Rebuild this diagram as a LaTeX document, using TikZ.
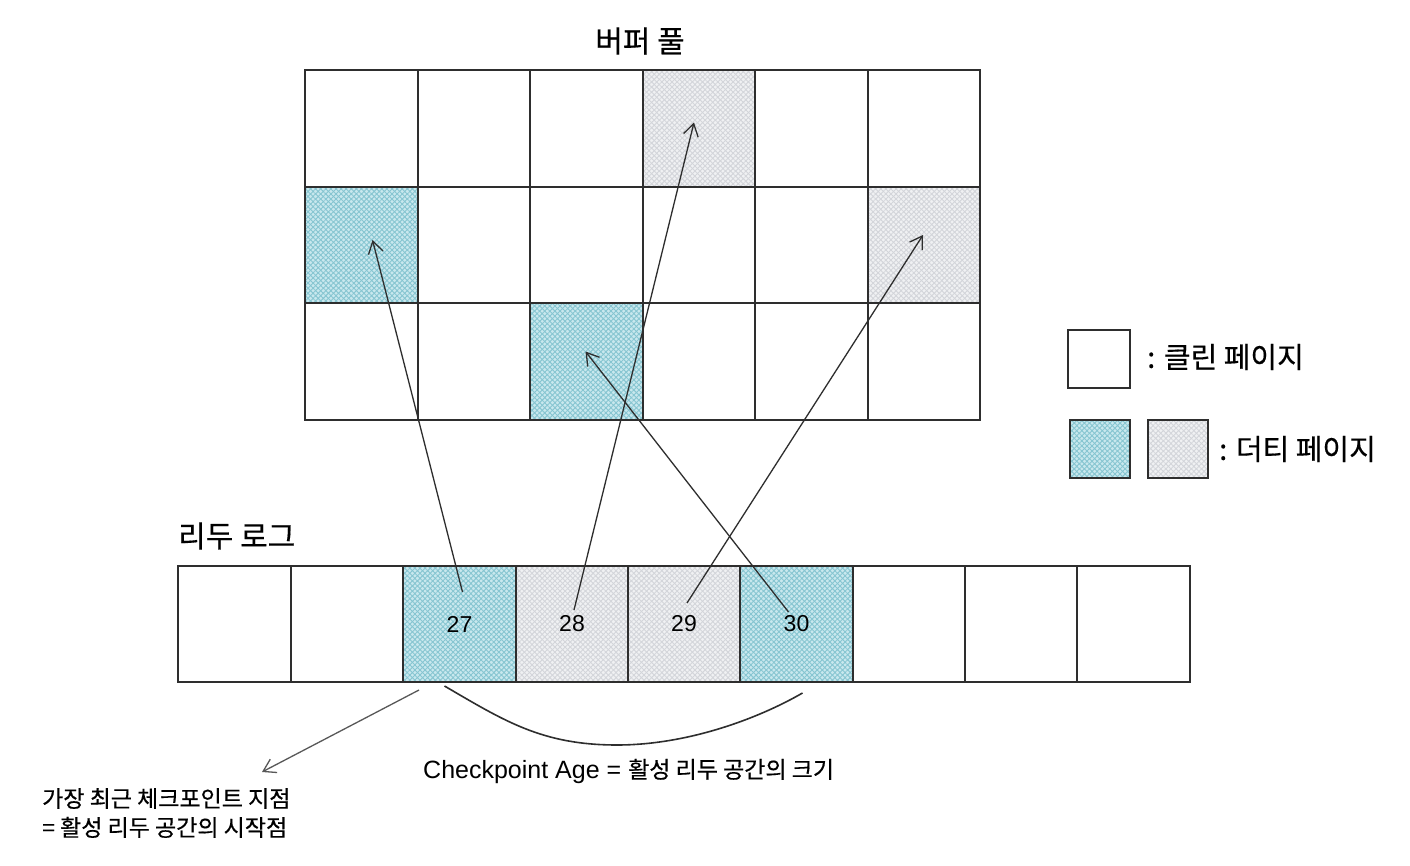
\documentclass[tikz,border=0pt]{standalone}
\usepackage{fontspec}
\setmainfont{Liberation Sans}
\newfontfamily\kr[FakeBold=0.4]{Noto Sans CJK KR}
\usetikzlibrary{arrows.meta,calc,backgrounds,patterns.meta}
\definecolor{ink}{HTML}{2E2E2E}
\definecolor{bluebase}{HTML}{C9E8EE}
\definecolor{blueline}{HTML}{86C5D1}
\definecolor{greybase}{HTML}{F0F1F3}
\definecolor{greyline}{HTML}{D3D5DA}
\begin{document}
\begin{tikzpicture}[x=1pt,y=-1pt,
  cell/.style={draw=ink,line width=1.8pt,inner sep=0pt,outer sep=0pt,anchor=north west},
  logcell/.style={cell,minimum height=116pt,font=\fontsize{23}{26}\selectfont},
  legbox/.style={cell,minimum width=60pt,minimum height=58pt},
  hatchb/.style={fill=bluebase,
    postaction={pattern={Lines[angle=45,distance=3.6pt,line width=0.9pt]},pattern color=blueline},
    postaction={pattern={Lines[angle=-45,distance=3.6pt,line width=0.9pt]},pattern color=blueline}},
  hatchg/.style={fill=greybase,
    postaction={pattern={Lines[angle=45,distance=3.6pt,line width=0.9pt]},pattern color=greyline},
    postaction={pattern={Lines[angle=-45,distance=3.6pt,line width=0.9pt]},pattern color=greyline}},
  ptr/.style={draw=ink,line width=1.3pt,
    -{Straight Barb[length=12pt,width=15pt,line width=1.3pt]}},
  title/.style={font=\kr\fontsize{30}{34}\selectfont,inner sep=0pt},
  legtext/.style={font=\kr\fontsize{29}{32}\selectfont,inner sep=0pt,anchor=west}]
\useasboundingbox (0,0) rectangle (1410,866);

% buffer pool grid
\foreach \r/\y/\h in {0/70/117,1/187/116,2/303/117}
  \foreach \c/\x/\w in {0/305/113,1/418/112,2/530/113,3/643/112,4/755/113,5/868/112}
    \node[cell,minimum width=\w pt,minimum height=\h pt] (b\r\c) at (\x,\y) {};

\node[title] (tbp) at (640,41) {버퍼 풀};

% redo log
\foreach \i/\x/\w/\t in {0/178/113/,1/291/112/,2/403/113/27,3/516/112/28,4/628/112/29,
                         5/740/113/30,6/853/112/,7/965/112/,8/1077/113/}
  \node[logcell,minimum width=\w pt] (r\i) at (\x,566) {\t};

\node[title,anchor=west] (trl) at (178,536) {리두 로그};

% legend boxes
\node[legbox,minimum width=62pt] (lc) at (1068,330) {};
\node[legbox] (ld1) at (1070,420) {};
\node[legbox] (ld2) at (1148,420) {};

% fills of the dirty pages
\begin{scope}[on background layer]
  \fill[white] (0,0) rectangle (1410,866);
  \foreach \n/\h in {b03/hatchg,b10/hatchb,b15/hatchg,b22/hatchb,
                     r2/hatchb,r3/hatchg,r4/hatchg,r5/hatchb,ld1/hatchb,ld2/hatchg}
    \path[\h] (\n.north west) rectangle (\n.south east);
\end{scope}

% pointers from redo log records to pages
\coordinate (s27) at ($(r2.center)+(3,-32)$);
\coordinate (e27) at ($(b10.center)+(11,-5)$);
\coordinate (s28) at ($(r3.center)+(2,-14)$);
\coordinate (e28) at ($(b03.center)+(-5,-6)$);
\coordinate (s29) at ($(r4.center)+(3,-21)$);
\coordinate (e29) at ($(b15.center)+(-1,-10)$);
\coordinate (s30) at ($(r5.center)+(-8,-12)$);
\coordinate (e30) at ($(b22.center)+(-1,-10)$);
\draw[ptr] (s27) -- (e27);
\draw[ptr] (s28) -- (e28);
\draw[ptr] (s29) -- (e29);
\draw[ptr] (s30) -- (e30);

% checkpoint arrow
\coordinate (cp) at ($(r2.south west)+(16,8)$);
\coordinate (cpt) at (262,772);
\draw[ptr,draw=ink!80] (cp) -- (cpt);

% checkpoint age brace
\coordinate (ca) at ($(r2.south)+(-15,4)$);
\coordinate (cm) at (617,745);
\coordinate (cb) at ($(r5.south)+(6,11)$);
\draw[ink,line width=1.6pt] (ca) .. controls +(60,35) and +(-75,0) .. (cm)
   .. controls +(70,0) and +(-45,26) .. (cb);

\node[anchor=west,inner sep=0pt] (tca) at (423,771)
  {\fontsize{25}{30}\selectfont Checkpoint Age = {\kr\fontsize{23}{28}\selectfont 활성 리두 공간의 크기}};
\node[anchor=west,align=left,inner sep=0pt,font=\kr\fontsize{23}{29}\selectfont] (tsp) at (42,813)
  {가장 최근 체크포인트 지점\\= 활성 리두 공간의 시작점};

% legend texts
\node[legtext] (tlc) at (1147,357) {: 클린 페이지};
\node[legtext] (tld) at (1219,449) {: 더티 페이지};
\end{tikzpicture}
\end{document}
